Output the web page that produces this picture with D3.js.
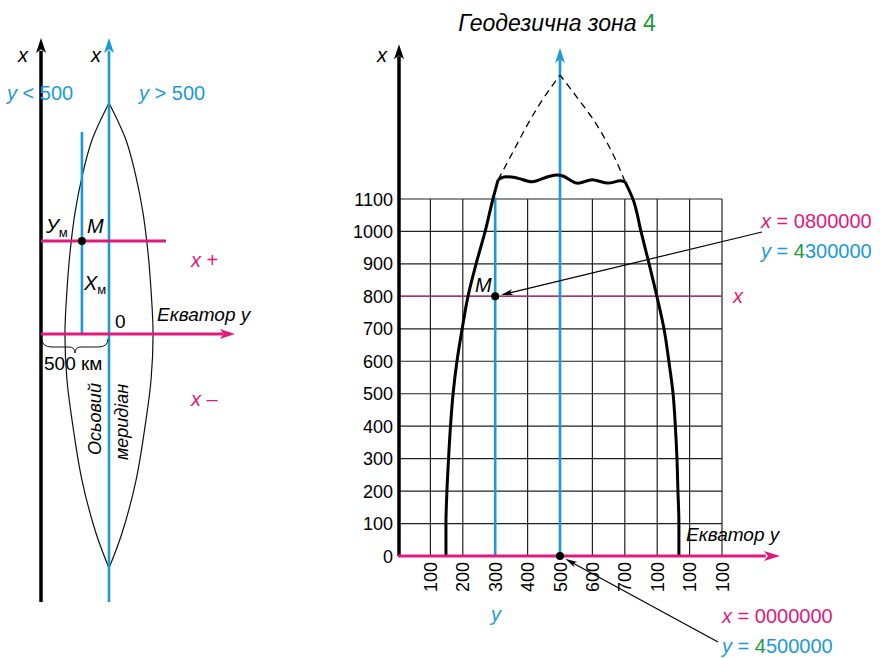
<!DOCTYPE html>
<html>
<head>
<meta charset="utf-8">
<script src="https://cdn.jsdelivr.net/npm/d3@7"></script>
<style>
  body { margin: 0; background: #fff; }
  svg { font-family: "Liberation Sans", Arial, sans-serif; }
  .it { font-style: italic; }
</style>
</head>
<body>
<div class="geo"></div>
<script>
// values (easting / northing in grid units)
var northTicks = [0, 100, 200, 300, 400, 500, 600, 700, 800, 900, 1000, 1100];
var eastTicks = [100, 200, 300, 400, 500, 600, 700, 800, 900, 1000];
var eastLabels = ["100", "200", "300", "400", "500", "600", "700", "100", "100", "100"];

// zone boundary, [easting, northing]
var leftEdge = [[148,0],[148,100],[151,200],[156,300],[162,400],[170,500],[182,600],[198,700],[216,800],[241,900],[269,1000],[293,1100],[309,1159]];
var rightEdge = [[867,0],[867,100],[864,200],[861,300],[856,400],[849,500],[836,600],[821,700],[799,800],[775,900],[750,1000],[725,1100],[701,1153]];
var topWave = [[309,1159],[327,1168],[367,1165],[414,1153],[460,1168],[488,1174],[509,1171],[552,1149],[599,1159],[648,1149],[685,1156],[701,1153]];
var dashLeft = [[309,1159],[358,1251],[404,1337],[454,1418],[500,1482]];
var dashRight = [[701,1153],[657,1251],[608,1337],[549,1418],[500,1482]];

var pointM = [300, 800];
var pointO = [500, 0];

// schematic on the left: easting km, northing relative (-1 .. 1)
var lensNorth = [0.979, 0.822, 0.665, 0.513, 0.343, 0.186, 0, -0.195, -0.364, -0.619, -0.843, -0.992];
var lensWest = [500, 375, 301, 250, 213, 191, 176, 191, 228, 301, 404, 500];
var lensEast = [500, 625, 699, 750, 787, 809, 824, 809, 772, 699, 596, 500];
var schemeM = [301, 0.394];

var blue = "#1b9ad8", pink = "#e0197d", green = "#1e9a3b", plum = "#a8336f";

var svg = d3.select(".geo").append("svg")
    .attr("width", 882)
    .attr("height", 658);

function arrowHead(x, y, ang, len, wid, col) {
  // tip at x,y pointing along ang (radians)
  var c = Math.cos(ang), s = Math.sin(ang);
  var bx = x - c * len, by = y - s * len;
  var p = [[x, y], [bx - s * wid / 2, by + c * wid / 2], [bx + c * len * 0.25, by + s * len * 0.25], [bx + s * wid / 2, by - c * wid / 2]];
  svg.append("path").attr("d", "M" + p.join("L") + "Z").attr("fill", col);
}

function text(x, y, str, size, col, opts) {
  opts = opts || {};
  var t = svg.append("text")
    .attr("x", x).attr("y", y)
    .style("font-size", size + "px")
    .attr("fill", col)
    .attr("text-anchor", opts.anchor || "start")
    .text(str);
  if (opts.italic) t.attr("class", "it");
  if (opts.rot) t.attr("transform", "rotate(" + opts.rot + "," + x + "," + y + ")");
  return t;
}

// ================= LEFT SCHEME =================
var lx = d3.scaleLinear().domain([0, 500]).range([41, 109]);
var ly = d3.scaleLinear().domain([-1, 1]).range([570, 98]);

var lensLine = d3.line()
    .x(function(d) { return lx(d[0]); })
    .y(function(d) { return ly(d[1]); })
    .curve(d3.curveCatmullRom);

svg.selectAll(".lens")
  .data([lensWest, lensEast].map(function(side) {
    return side.map(function(e, i) { return [e, lensNorth[i]]; });
  }))
  .enter().append("path")
    .attr("d", lensLine)
    .attr("fill", "none")
    .attr("stroke", "#111")
    .attr("stroke-width", 1.2);

// black x axis
svg.append("line")
    .attr("x1", lx(0)).attr("x2", lx(0))
    .attr("y1", ly(-1.136)).attr("y2", ly(1.2))
    .attr("stroke", "#000").attr("stroke-width", 3.5);
arrowHead(lx(0), ly(1.254), -Math.PI / 2, 15, 10, "#000");

// axial meridian
svg.append("line")
    .attr("x1", lx(500)).attr("x2", lx(500))
    .attr("y1", ly(-1.136)).attr("y2", ly(1.2))
    .attr("stroke", blue).attr("stroke-width", 2.6);
arrowHead(lx(500), ly(1.254), -Math.PI / 2, 15, 10, blue);

// short blue line through M
svg.append("line")
    .attr("x1", lx(schemeM[0])).attr("x2", lx(schemeM[0]))
    .attr("y1", ly(0)).attr("y2", ly(0.856))
    .attr("stroke", blue).attr("stroke-width", 2.6);

// pink parallel through M
svg.append("line")
    .attr("x1", lx(0)).attr("x2", lx(919))
    .attr("y1", ly(schemeM[1])).attr("y2", ly(schemeM[1]))
    .attr("stroke", pink).attr("stroke-width", 3);

// equator
svg.append("line")
    .attr("x1", lx(0)).attr("x2", lx(1340))
    .attr("y1", ly(0)).attr("y2", ly(0))
    .attr("stroke", pink).attr("stroke-width", 3);
arrowHead(lx(1426), ly(0), 0, 15, 10, pink);

svg.append("circle")
    .attr("cx", lx(schemeM[0])).attr("cy", ly(schemeM[1]))
    .attr("r", 4).attr("fill", "#000");

// brace for 500 km
var b0 = lx(0) + 1, b1 = lx(500) - 1, bm = (b0 + b1) / 2, by = ly(0) + 5;
svg.append("path")
    .attr("d", "M" + b0 + "," + by + " Q" + b0 + "," + (by + 8) + " " + (b0 + 10) + "," + (by + 8) +
               " L" + (bm - 6) + "," + (by + 8) + " Q" + bm + "," + (by + 8) + " " + bm + "," + (by + 14) +
               " Q" + bm + "," + (by + 8) + " " + (bm + 6) + "," + (by + 8) +
               " L" + (b1 - 10) + "," + (by + 8) + " Q" + b1 + "," + (by + 8) + " " + b1 + "," + by)
    .attr("fill", "none").attr("stroke", "#111").attr("stroke-width", 1);

text(18, 62, "x", 20, "#000", {italic: true});
text(91, 62, "x", 20, "#000", {italic: true});
var t1 = text(7, 100, "", 20, blue);
t1.append("tspan").attr("class", "it").text("y");
t1.append("tspan").text(" < 500");
var t2 = text(139, 100, "", 20, blue);
t2.append("tspan").attr("class", "it").text("y");
t2.append("tspan").text(" > 500");

var um = text(46, 233, "", 20, "#000");
um.append("tspan").attr("class", "it").text("У");
um.append("tspan").attr("dy", 4).style("font-size", "13px").text("м");
text(87, 233, "M", 20, "#000", {italic: true});
var xm = text(84, 290, "", 20, "#000");
xm.append("tspan").attr("class", "it").text("X");
xm.append("tspan").attr("dy", 4).style("font-size", "13px").text("м");
text(115, 328, "0", 19, "#000");
text(157, 321, "Екватор y", 19, "#000", {italic: true});
text(44, 370, "500 км", 19, "#000");
text(101, 455, "Осьовий", 18, "#000", {italic: true, rot: -90});
text(128, 460, "меридіан", 18, "#000", {italic: true, rot: -90});
text(191, 267, "", 20, pink).html('<tspan class="it">x</tspan> +');
text(191, 406, "", 20, pink).html('<tspan class="it">x</tspan> –');

// ================= RIGHT ZONE =================
var xs = d3.scaleLinear().domain([0, 1000]).range([398, 722]);
var ys = d3.scaleLinear().domain([0, 1100]).range([556, 199]);

var t = svg.append("text")
    .attr("x", 557).attr("y", 31)
    .attr("text-anchor", "middle")
    .style("font-size", "23px");
t.append("tspan").attr("class", "it").text("Геодезична зона ");
t.append("tspan").attr("fill", green).text("4");

// grid
var grid = svg.append("g").attr("stroke", "#222").attr("stroke-width", 1.2);
grid.selectAll(".gv")
  .data(eastTicks)
  .enter().append("line")
    .attr("x1", function(d) { return xs(d); })
    .attr("x2", function(d) { return xs(d); })
    .attr("y1", ys(0)).attr("y2", ys(1100));
grid.selectAll(".gh")
  .data(northTicks.slice(1))
  .enter().append("line")
    .attr("x1", xs(0)).attr("x2", xs(1000))
    .attr("y1", function(d) { return ys(d); })
    .attr("y2", function(d) { return ys(d); });

// tick labels
svg.selectAll(".nl")
  .data(northTicks)
  .enter().append("text")
    .attr("x", 393)
    .attr("y", function(d) { return ys(d) + 6.5; })
    .attr("text-anchor", "end")
    .style("font-size", "18px")
    .text(function(d) { return d; });

svg.selectAll(".el")
  .data(eastTicks)
  .enter().append("text")
    .attr("x", function(d) { return xs(d) + 6.5; })
    .attr("y", ys(0) + 6)
    .attr("text-anchor", "end")
    .attr("transform", function(d) { return "rotate(-90," + (xs(d) + 6.5) + "," + (ys(0) + 6) + ")"; })
    .style("font-size", "18px")
    .text(function(d, i) { return eastLabels[i]; });

// 800 parallel
svg.append("line")
    .attr("x1", xs(0)).attr("x2", xs(1000))
    .attr("y1", ys(pointM[1])).attr("y2", ys(pointM[1]))
    .attr("stroke", plum).attr("stroke-width", 1.5);
text(xs(1000) + 11, ys(pointM[1]) + 7, "x", 20, pink, {italic: true});

// blue meridians
svg.append("line")
    .attr("x1", xs(pointM[0])).attr("x2", xs(pointM[0]))
    .attr("y1", ys(0)).attr("y2", ys(1105))
    .attr("stroke", blue).attr("stroke-width", 2.6);
svg.append("line")
    .attr("x1", xs(500)).attr("x2", xs(500))
    .attr("y1", ys(0)).attr("y2", ys(1530))
    .attr("stroke", blue).attr("stroke-width", 2.6);
arrowHead(xs(500), ys(1565), -Math.PI / 2, 15, 10, blue);

// black x axis
svg.append("line")
    .attr("x1", xs(0) + 1).attr("x2", xs(0) + 1)
    .attr("y1", ys(0)).attr("y2", ys(1540))
    .attr("stroke", "#000").attr("stroke-width", 3.5);
arrowHead(xs(0) + 1, ys(1577), -Math.PI / 2, 15, 10, "#000");
text(377, 62, "x", 20, "#000", {italic: true});

// boundary
var edgeLine = d3.line()
    .x(function(d) { return xs(d[0]); })
    .y(function(d) { return ys(d[1]); })
    .curve(d3.curveMonotoneY);
var waveLine = d3.line()
    .x(function(d) { return xs(d[0]); })
    .y(function(d) { return ys(d[1]); })
    .curve(d3.curveCatmullRom);

svg.selectAll(".edge")
  .data([leftEdge, rightEdge])
  .enter().append("path")
    .attr("d", edgeLine)
    .attr("fill", "none")
    .attr("stroke", "#000")
    .attr("stroke-width", 3);
svg.append("path")
    .attr("d", waveLine(topWave))
    .attr("fill", "none")
    .attr("stroke", "#000")
    .attr("stroke-width", 3);

svg.selectAll(".dash")
  .data([dashLeft, dashRight])
  .enter().append("path")
    .attr("d", edgeLine)
    .attr("fill", "none")
    .attr("stroke", "#000")
    .attr("stroke-width", 1.3)
    .attr("stroke-dasharray", "7,5");

// equator
svg.append("line")
    .attr("x1", xs(0)).attr("x2", xs(1135))
    .attr("y1", ys(0)).attr("y2", ys(0))
    .attr("stroke", pink).attr("stroke-width", 3);
arrowHead(xs(1179), ys(0), 0, 16, 10, pink);
text(686, 541, "Екватор y", 19, "#000", {italic: true});
text(496, 621, "y", 20, blue, {italic: true, anchor: "middle"});

// points
svg.append("circle").attr("cx", xs(pointM[0])).attr("cy", ys(pointM[1])).attr("r", 4).attr("fill", "#000");
svg.append("circle").attr("cx", xs(pointO[0])).attr("cy", ys(pointO[1])).attr("r", 4).attr("fill", "#000");
text(475, 292, "M", 20, "#000", {italic: true});

// leader arrows
function leader(x0, y0, x1, y1) {
  var ang = Math.atan2(y1 - y0, x1 - x0);
  var ex = x1 - Math.cos(ang) * 6, ey = y1 - Math.sin(ang) * 6;
  svg.append("line")
      .attr("x1", x0).attr("y1", y0)
      .attr("x2", ex - Math.cos(ang) * 8).attr("y2", ey - Math.sin(ang) * 8)
      .attr("stroke", "#000").attr("stroke-width", 1.2);
  arrowHead(ex, ey, ang, 12, 6, "#000");
}
leader(762, 232, xs(pointM[0]), ys(pointM[1]));
leader(718, 642, xs(pointO[0]), ys(pointO[1]));

function coordLabel(x, y, xv, yv) {
  var a = text(x, y, "", 20, pink);
  a.append("tspan").attr("class", "it").text("x");
  a.append("tspan").text(" = " + xv);
  var b = text(x, y + 30, "", 20, blue);
  b.append("tspan").attr("class", "it").text("y");
  b.append("tspan").text(" = ");
  b.append("tspan").attr("fill", green).text(yv.charAt(0));
  b.append("tspan").text(yv.slice(1));
}
coordLabel(761, 228, "0800000", "4300000");
coordLabel(722, 623, "0000000", "4500000");
</script>
</body>
</html>
